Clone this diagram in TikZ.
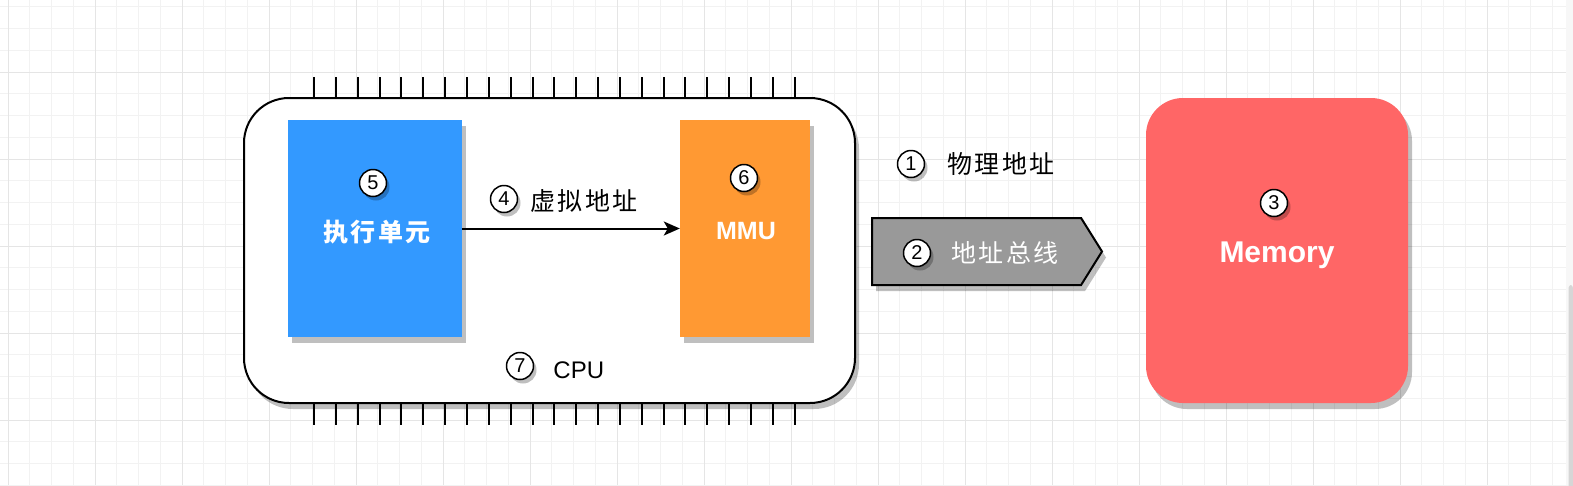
\documentclass[tikz,border=0pt]{standalone}
\usepackage{fontspec}
\setmainfont{Liberation Sans}
\newfontfamily\cjk[LetterSpace=10]{Noto Sans CJK SC}
\usetikzlibrary{arrows.meta,positioning,shadows,shapes.symbols}

\definecolor{exeblue}{HTML}{3399FF}
\definecolor{mmuorange}{HTML}{FF9933}
\definecolor{memred}{HTML}{FF6666}
\definecolor{busgrey}{HTML}{999999}

\begin{document}
\begin{tikzpicture}[x=1pt,y=-1pt,>={Stealth[length=16pt,width=14pt,inset=4pt]}]
  \tikzstyle{shadowed}=[drop shadow={shadow xshift=4pt,shadow yshift=-6pt,fill=black,opacity=.25}]
  \tikzstyle{block}=[shadowed,inner sep=0,text=white]
  \tikzstyle{cnum}=[circle,draw=black,line width=1.5pt,fill=white,minimum size=27pt,inner sep=0,
    font=\fontsize{20}{20}\selectfont,
    drop shadow={shadow xshift=3pt,shadow yshift=-4pt,fill=black,opacity=.25}]
  \tikzstyle{cntext}=[inner sep=0,font=\cjk\fontsize{25}{25}\selectfont]
  \tikzstyle{cpupin}=[line width=2pt]
  \tikzstyle{minor}=[draw=black!5,line width=1pt]
  \tikzstyle{major}=[draw=black!10,line width=1pt]

  % background grid
  \fill[white] (0,0) rectangle (1573,485);
  \useasboundingbox (0,0) rectangle (1573,485);
  \foreach \i in {-1,...,72} \draw[minor] ({8+21.75*\i},0) -- ({8+21.75*\i},485);
  \foreach \j in {-4,...,19} \draw[minor] (0,{72+21.75*\j}) -- (1573,{72+21.75*\j});
  \foreach \i in {0,...,18} \draw[major] ({8+87*\i},0) -- ({8+87*\i},485);
  \foreach \j in {-1,...,5} \draw[major] (0,{72+87*\j}) -- (1573,{72+87*\j});
  \fill[black!3] (1566,0) rectangle (1573,485);
  \fill[black!16,rounded corners=3pt] (1568.5,285) rectangle (1573,492);

  % cpu
  \node[shadowed,draw=black,line width=2pt,fill=white,rounded corners=45pt,
        minimum width=611pt,minimum height=305pt] (cpu) at (549.5,250.5) {};
  \foreach \i in {0,...,22} {
    \draw[cpupin] ({314+21.85*\i},77) -- ({314+21.85*\i},98);
    \draw[cpupin] ({314+21.85*\i},403) -- ({314+21.85*\i},425);
  }

  \node[block,fill=exeblue,minimum width=174pt,minimum height=217pt] (exe) at (375,228.5) {};
  \node[block,fill=mmuorange,minimum width=130pt,minimum height=217pt] (mmu) at (745,228.5) {};
  \node[block,fill=memred,rounded corners=37pt,minimum width=262pt,minimum height=305pt] (mem) at (1277,250.5) {};
  \node[shadowed,signal,signal to=east,signal pointer angle=116,draw=black,line width=2pt,fill=busgrey,
        minimum width=230pt,minimum height=67pt,inner sep=0,anchor=west] (bus) at (871,251.5) {};

  \draw[->,line width=2pt] (exe.east) -- (mmu.west);

  % labels
  \node[cntext,text=white,font=\cjk\bfseries\fontsize{25}{25}\selectfont] (exetext) at (377,232) {执行单元};
  \node[inner sep=0,text=white,font=\bfseries\fontsize{25}{25}\selectfont] (mmutext) at (746,231.5) {MMU};
  \node[inner sep=0,text=white,font=\bfseries\fontsize{30}{30}\selectfont] (memtext) at (1277,255) {Memory};

  \node[cnum] (n1) at (911,164) {1};
  \node[cntext] (t1) [right=22pt of n1] {物理地址};
  \node[cnum] (n2) at (917,253) {2};
  \node[cntext,text=white] (t2) [right=20pt of n2] {地址总线};
  \node[cnum] (n3) at (1274,203) {3};
  \node[cnum] (n4) at (504,199) {4};
  \node[cntext] (t4) [right=12pt of n4,yshift=-2pt] {虚拟地址};
  \node[cnum] (n5) at (373,183) {5};
  \node[cnum] (n6) at (744,178) {6};
  \node[cnum] (n7) at (520,366) {7};
  \node[inner sep=0,font=\fontsize{24}{24}\selectfont] (cputext) [right=19pt of n7,yshift=-4pt] {CPU};
\end{tikzpicture}
\end{document}
